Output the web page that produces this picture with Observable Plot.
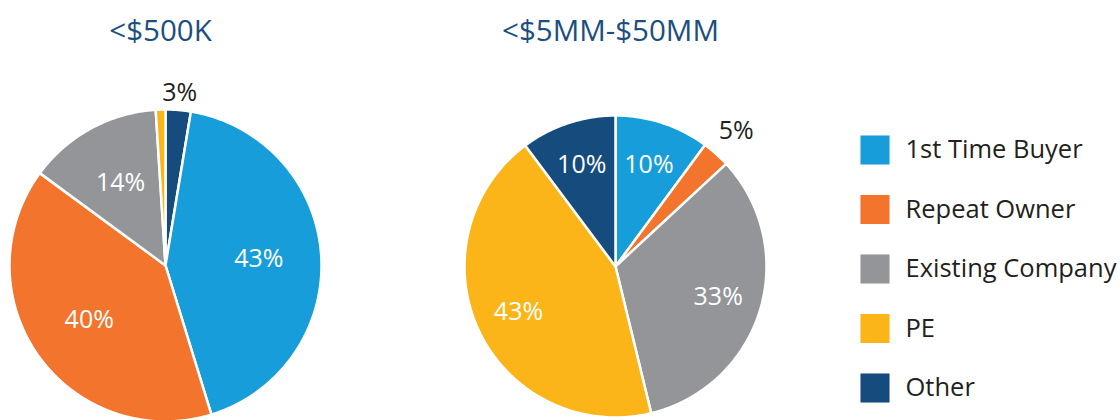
<!DOCTYPE html>
<html><head><meta charset="utf-8">
<script src="https://cdn.jsdelivr.net/npm/d3@7"></script>
<script src="https://cdn.jsdelivr.net/npm/@observablehq/plot@0.6"></script>
<style>body{margin:0;background:#fff;}</style>
</head><body><div id="chart"></div>
<script>
// Legend categories and colours
const categories = ["1st Time Buyer", "Repeat Owner", "Existing Company", "PE", "Other"];
const colors = ["#179dd9", "#f3742c", "#939598", "#fbb519", "#154b7d"];
const pieTitles = ["<$500K", "<$5MM-$50MM"];

// Left pie: slices clockwise from 12 o'clock (shares)
const leftOrder = ["Other", "1st Time Buyer", "Repeat Owner", "Existing Company", "PE"];
const leftShares = [2.6, 42.6, 39.8, 13.9, 1.0];
const leftLabels = ["3%", "43%", "40%", "14%", ""];

// Right pie
const rightOrder = ["1st Time Buyer", "Repeat Owner", "Existing Company", "PE", "Other"];
const rightShares = [10.1, 3.0, 33.1, 43.6, 10.2];
const rightLabels = ["10%", "5%", "33%", "43%", "10%"];

// Layout (pixels)
const W = 1120, H = 420;
const pies = [
  {title: pieTitles[0], order: leftOrder, shares: leftShares, labels: leftLabels, cx: 165, cy: 265, r: 156, inner: 0.6, outer: 1.11, titleX: 160},
  {title: pieTitles[1], order: rightOrder, shares: rightShares, labels: rightLabels, cx: 615, cy: 266, r: 151, inner: 0.71, outer: 1.2, titleX: 610}
];

const slicePts = [], insideLabels = [], outsideLabels = [], titles = [];
pies.forEach((p, pi) => {
  const total = d3.sum(p.shares);
  let acc = 0;
  titles.push({x: p.titleX, y: 31, text: p.title});
  p.order.forEach((cat, i) => {
    const a0 = acc / total * 2 * Math.PI;
    acc += p.shares[i];
    const a1 = acc / total * 2 * Math.PI;
    const id = pi + "-" + i;
    slicePts.push({id, cat, x: p.cx, y: p.cy});
    const n = Math.max(2, Math.ceil((a1 - a0) / (Math.PI / 180)));
    for (let k = 0; k <= n; k++) {
      const a = a0 + (a1 - a0) * k / n;
      slicePts.push({id, cat, x: p.cx + p.r * Math.sin(a), y: p.cy - p.r * Math.cos(a)});
    }
    slicePts.push({id, cat, x: p.cx, y: p.cy});
    const am = (a0 + a1) / 2;
    const lab = p.labels[i];
    if (!lab) return;
    if (p.shares[i] < 5) {
      const rr = p.r * p.outer;
      outsideLabels.push({x: p.cx + rr * Math.sin(am), y: p.cy - rr * Math.cos(am), text: lab});
    } else {
      const rr = p.r * p.inner;
      insideLabels.push({x: p.cx + rr * Math.sin(am), y: p.cy - rr * Math.cos(am), text: lab});
    }
  });
});

const legend = categories.map((c, i) => ({cat: c, i}));

const chart = Plot.plot({
  width: W, height: H,
  margin: 0,
  style: {fontFamily: "'Open Sans', 'Noto Sans', sans-serif", background: "white"},
  x: {domain: [0, W], range: [0, W], axis: null},
  y: {domain: [0, H], range: [0, H], axis: null},
  color: {domain: categories, range: colors},
  marks: [
    Plot.line(slicePts, {x: "x", y: "y", z: "id", fill: "cat", stroke: "white", strokeWidth: 2.5, strokeLinejoin: "round", curve: "linear"}),
    Plot.text(insideLabels, {x: "x", y: "y", text: "text", fill: "white", fontSize: 25}),
    Plot.text(outsideLabels, {x: "x", y: "y", text: "text", fill: "#231f20", fontSize: 25}),
    Plot.text(titles, {x: "x", y: "y", text: "text", fill: "#1c4f80", fontSize: 29.5}),
    Plot.dot(legend, {x: () => 874.5, y: d => 149.5 + d.i * 59.5, fill: "cat", symbol: "square", r: 16.4, stroke: null}),
    Plot.text(legend, {x: () => 905, y: d => 149.5 + d.i * 59.5, text: "cat", fill: "#231f20", fontSize: 25.5, textAnchor: "start"})
  ]
});
document.getElementById("chart").appendChild(chart);
</script>
</body></html>
